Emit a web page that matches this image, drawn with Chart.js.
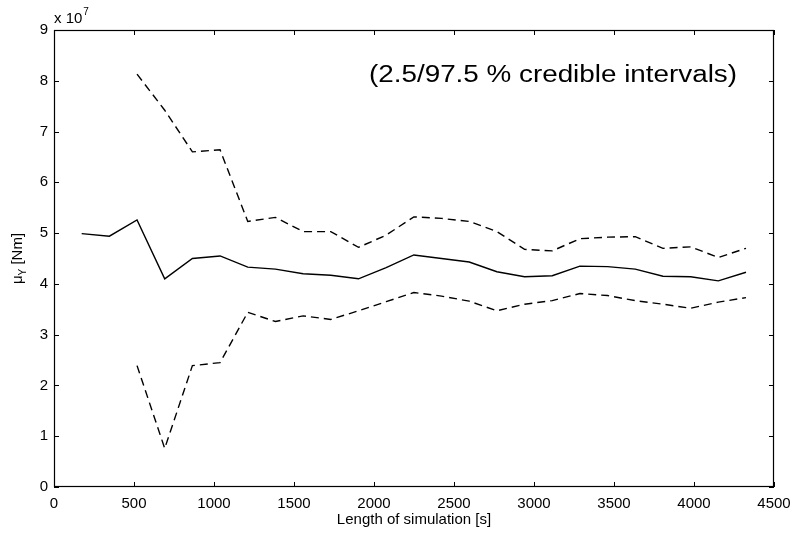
<!DOCTYPE html>
<html>
<head>
<meta charset="utf-8">
<script src="https://cdn.jsdelivr.net/npm/chart.js@4/dist/chart.umd.min.js"></script>
<style>
  html, body { margin: 0; padding: 0; background: #fff; }
  #wrap { width: 794px; height: 533px; }
</style>
</head>
<body>
<div id="wrap"><canvas id="muChart" width="794" height="533"></canvas></div>
<script>
// simulation length [s]
const simLength = [173, 346, 519, 692, 865, 1038, 1211, 1384, 1557, 1730, 1903, 2076, 2249,
                   2422, 2595, 2768, 2941, 3114, 3287, 3460, 3633, 3806, 3979, 4152, 4325];
// posterior mean of mu_Y, in units of 1e7 Nm
const meanMu = [4.99, 4.94, 5.26, 4.10, 4.50, 4.55, 4.33, 4.29, 4.20, 4.17, 4.10, 4.32, 4.57,
                4.50, 4.43, 4.24, 4.14, 4.16, 4.35, 4.34, 4.29, 4.15, 4.14, 4.06, 4.23];
// 97.5 % bound
const upperMu = [null, null, 8.13, 7.42, 6.60, 6.64, 5.23, 5.31, 5.03, 5.03, 4.72, 4.96, 5.32,
                 5.29, 5.23, 5.03, 4.68, 4.65, 4.89, 4.92, 4.93, 4.70, 4.73, 4.52, 4.70];
// 2.5 % bound
const lowerMu = [null, null, 2.39, 0.76, 2.39, 2.45, 3.44, 3.26, 3.37, 3.30, 3.47, 3.65, 3.83,
                 3.76, 3.66, 3.47, 3.60, 3.67, 3.81, 3.77, 3.67, 3.60, 3.52, 3.64, 3.73];

const xTicks = [0, 500, 1000, 1500, 2000, 2500, 3000, 3500, 4000, 4500];
const yTicks = [0, 1, 2, 3, 4, 5, 6, 7, 8, 9];

const FONT = "'Liberation Sans', Arial, Helvetica, sans-serif";
Chart.defaults.font.family = FONT;
Chart.defaults.color = '#000';

function pts(ys) {
    return simLength.map((x, i) => ({ x: x, y: ys[i] }));
}

// matlab-ish frame: box, inward ticks, exponent label, annotation, y title with subscript
const matlabFrame = {
    id: 'matlabFrame',
    afterDraw(chart) {
        const ctx = chart.ctx;
        const a = chart.chartArea;
        const xs = chart.scales.x, ys = chart.scales.y;
        const tl = 5;
        ctx.save();
        ctx.strokeStyle = '#000';
        ctx.lineWidth = 1.2;
        ctx.strokeRect(a.left + 0.5, a.top + 0.5, a.right - a.left - 1, a.bottom - a.top - 1);
        ctx.lineWidth = 1;
        ctx.beginPath();
        xTicks.forEach(v => {
            const px = Math.round(xs.getPixelForValue(v)) + 0.5;
            ctx.moveTo(px, a.bottom); ctx.lineTo(px, a.bottom - tl);
            ctx.moveTo(px, a.top); ctx.lineTo(px, a.top + tl);
        });
        yTicks.forEach(v => {
            const py = Math.round(ys.getPixelForValue(v)) + 0.5;
            ctx.moveTo(a.left, py); ctx.lineTo(a.left + tl, py);
            ctx.moveTo(a.right, py); ctx.lineTo(a.right - tl, py);
        });
        ctx.stroke();

        // x 10^7
        ctx.fillStyle = '#000';
        ctx.textAlign = 'left';
        ctx.textBaseline = 'alphabetic';
        ctx.font = '15px ' + FONT;
        ctx.fillText('x 10', a.left, 23);
        const w10 = ctx.measureText('x 10').width;
        ctx.font = '10px ' + FONT;
        ctx.fillText('7', a.left + w10 + 1, 15);

        // annotation
        ctx.font = '23px ' + FONT;
        const ann = '(2.5/97.5 % credible intervals)';
        const aw = ctx.measureText(ann).width;
        ctx.save();
        ctx.translate(369, 82);
        ctx.scale(368 / aw, 1);
        ctx.fillText(ann, 0, 0);
        ctx.restore();

        // y title: mu_Y [Nm]
        ctx.translate(22, (a.top + a.bottom) / 2);
        ctx.rotate(-Math.PI / 2);
        ctx.font = '15px ' + FONT;
        const p1 = '\u03bc', p2 = 'Y', p3 = ' [Nm]';
        const w1 = ctx.measureText(p1).width;
        const w3 = ctx.measureText(p3).width;
        ctx.font = '10px ' + FONT;
        const w2 = ctx.measureText(p2).width;
        let x0 = -(w1 + w2 + w3) / 2;
        ctx.font = '15px ' + FONT;
        ctx.fillText(p1, x0, 0);
        ctx.font = '10px ' + FONT;
        ctx.fillText(p2, x0 + w1, 4);
        ctx.font = '15px ' + FONT;
        ctx.fillText(p3, x0 + w1 + w2, 0);
        ctx.restore();
    }
};

const lineStyle = { borderColor: '#000', borderWidth: 1.4, pointRadius: 0, fill: false, tension: 0, spanGaps: false };

new Chart(document.getElementById('muChart'), {
    type: 'line',
    data: {
        datasets: [
            Object.assign({ label: 'mean', data: pts(meanMu) }, lineStyle),
            Object.assign({ label: '97.5 %', data: pts(upperMu), borderDash: [8, 5] }, lineStyle),
            Object.assign({ label: '2.5 %', data: pts(lowerMu), borderDash: [8, 5] }, lineStyle)
        ]
    },
    options: {
        responsive: false,
        animation: false,
        devicePixelRatio: 1,
        layout: { padding: { top: 30, right: 20, left: 0, bottom: 0 } },
        plugins: { legend: { display: false }, tooltip: { enabled: false } },
        scales: {
            x: {
                type: 'linear', min: 0, max: 4500,
                afterBuildTicks: s => { s.ticks = xTicks.map(v => ({ value: v })); },
                afterFit: s => { s.height = 46; s.paddingLeft = 0; s.paddingRight = 0; },
                grid: { display: false, drawTicks: false },
                border: { display: false },
                ticks: { font: { size: 15 }, padding: 8, maxRotation: 0, autoSkip: false, callback: v => String(v) },
                title: { display: true, text: 'Length of simulation [s]', font: { size: 15 }, padding: { top: 0, bottom: 4 } }
            },
            y: {
                type: 'linear', min: 0, max: 9,
                afterBuildTicks: s => { s.ticks = yTicks.map(v => ({ value: v })); },
                afterFit: s => { s.width = 54; s.paddingTop = 0; s.paddingBottom = 0; },
                grid: { display: false, drawTicks: false },
                border: { display: false },
                ticks: { font: { size: 15 }, padding: 6, autoSkip: false, callback: v => String(v) }
            }
        }
    },
    plugins: [matlabFrame]
});
</script>
</body>
</html>
